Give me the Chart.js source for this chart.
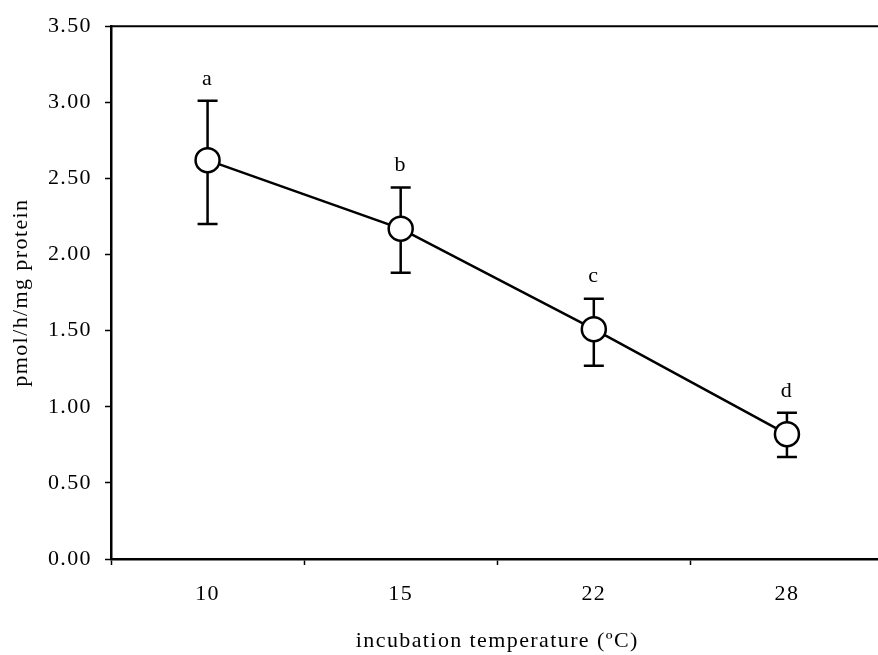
<!DOCTYPE html>
<html>
<head>
<meta charset="utf-8">
<script src="https://cdn.jsdelivr.net/npm/chart.js@4.4.1/dist/chart.umd.min.js"></script>
<style>
  html, body { margin: 0; padding: 0; background: #fff; overflow: hidden; }
  #wrap { width: 878px; height: 655px; overflow: hidden; }
  #chart { display: block; }
</style>
</head>
<body>
<div id="wrap"><canvas id="chart" width="898" height="655"></canvas></div>
<script>
const temperatures = ['10', '15', '22', '28'];
const activity = [2.62, 2.17, 1.51, 0.82];
const errHigh = [3.01, 2.44, 1.71, 0.96];
const errLow = [2.20, 1.88, 1.27, 0.67];
const letters = ['a', 'b', 'c', 'd'];
const yTicks = [0, 0.5, 1, 1.5, 2, 2.5, 3, 3.5];

const serif = '"Liberation Serif", "Times New Roman", serif';
const spacing = '1.4px';

// the scanned text is a bit spread out, so widen letters a little
const spread = {
  id: 'spread',
  beforeLayout(chart) { chart.ctx.letterSpacing = spacing; },
  beforeDraw(chart) { chart.ctx.letterSpacing = spacing; }
};

// error bars + letters + top frame line
const extras = {
  id: 'extras',
  beforeDatasetsDraw(chart) {
    const ctx = chart.ctx;
    const x = chart.scales.x, y = chart.scales.y;
    ctx.save();
    ctx.strokeStyle = '#000';
    ctx.lineWidth = 2.5;
    activity.forEach((v, i) => {
      const px = x.getPixelForValue(i);
      const top = y.getPixelForValue(errHigh[i]);
      const bot = y.getPixelForValue(errLow[i]);
      ctx.beginPath();
      ctx.moveTo(px, top); ctx.lineTo(px, bot);
      ctx.moveTo(px - 10, top); ctx.lineTo(px + 10, top);
      ctx.moveTo(px - 10, bot); ctx.lineTo(px + 10, bot);
      ctx.stroke();
    });
    const area = chart.chartArea;
    ctx.lineWidth = 2;
    ctx.beginPath();
    ctx.moveTo(area.left, area.top);
    ctx.lineTo(chart.width, area.top);
    ctx.stroke();
    ctx.restore();
  },
  afterDatasetsDraw(chart) {
    const ctx = chart.ctx;
    const x = chart.scales.x, y = chart.scales.y;
    ctx.save();
    ctx.fillStyle = '#000';
    ctx.font = '22px ' + serif;
    ctx.textAlign = 'center';
    ctx.textBaseline = 'middle';
    letters.forEach((l, i) => {
      ctx.fillText(l, x.getPixelForValue(i), y.getPixelForValue(errHigh[i]) - 22);
    });
    ctx.restore();
  }
};

new Chart(document.getElementById('chart'), {
  type: 'line',
  data: {
    labels: temperatures,
    datasets: [{
      data: activity,
      borderColor: '#000',
      borderWidth: 2.5,
      pointRadius: 12,
      pointBorderWidth: 2.5,
      pointBackgroundColor: '#fff',
      pointBorderColor: '#000',
      tension: 0
    }]
  },
  options: {
    responsive: false,
    animation: false,
    layout: { padding: { top: 25, right: 1, left: 0, bottom: 0 } },
    plugins: { legend: { display: false }, tooltip: { enabled: false } },
    scales: {
      x: {
        offset: true,
        grid: { offset: true, drawOnChartArea: false, tickLength: 6, tickColor: '#000', tickWidth: 1.5 },
        border: { color: '#000', width: 2.5 },
        ticks: { color: '#000', padding: 16, font: { family: serif, size: 22 } },
        title: {
          display: true,
          text: 'incubation temperature (ºC)',
          color: '#000',
          font: { family: serif, size: 22 },
          padding: { top: 0, bottom: 1 }
        },
        afterFit(scale) { scale.height = 96; }
      },
      y: {
        min: 0,
        max: 3.5,
        afterBuildTicks(scale) { scale.ticks = yTicks.map(v => ({ value: v })); },
        grid: { drawOnChartArea: false, tickLength: 6, tickColor: '#000', tickWidth: 1.5 },
        border: { color: '#000', width: 2.5 },
        ticks: {
          color: '#000',
          padding: 13,
          font: { family: serif, size: 22 },
          callback: v => Number(v).toFixed(2)
        },
        title: {
          display: true,
          text: 'pmol/h/mg protein',
          color: '#000',
          font: { family: serif, size: 22 },
          padding: { top: 8, bottom: 0 }
        },
        afterFit(scale) { scale.width = 111; }
      }
    }
  },
  plugins: [spread, extras]
});
</script>
</body>
</html>
